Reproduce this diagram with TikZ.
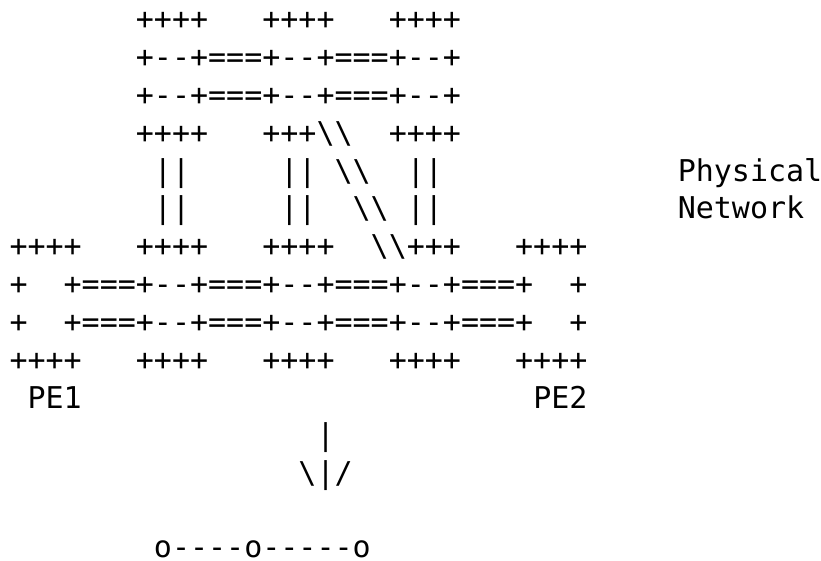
\documentclass[tikz,border=0pt]{standalone}
\usepackage{fontspec}
\setmonofont{DejaVu Sans Mono}
\usetikzlibrary{positioning}

\begin{document}
\begin{tikzpicture}
    [
        x=1pt, y=1pt,
        on grid,
        node distance=37.8pt, % one text line
        asciiline/.style={inner sep=0pt, outer sep=0pt, anchor=base west,
            font=\ttfamily\fontsize{30}{37.8}\selectfont}
    ]
        \useasboundingbox [fill=white] (0,0) rectangle (821,-561);
        \newcommand{\bs}{\textbackslash}
        % =========================================================================
        % UPPER (VIRTUAL) NETWORK
        % =========================================================================
        \node [asciiline] (vtop) at (9.5,-30) {~~~~~~~++++~~~++++~~~++++};
        \node [below=of vtop.base west, asciiline] (vlinkA) {~~~~~~~+--+===+--+===+--+};
        \node [below=of vlinkA.base west, asciiline] (vlinkB) {~~~~~~~+--+===+--+===+--+};
        \node [below=of vlinkB.base west, asciiline] (vbottom) {~~~~~~~++++~~~+++\bs\bs~~++++};
        % --- mapping down to the physical nodes ---
        \node [below=of vbottom.base west, asciiline] (mapA)
            {~~~~~~~~||~~~~~||~\bs\bs~~||~~~~~~~~~~~~~Physical};
        \node [below=of mapA.base west, asciiline] (mapB)
            {~~~~~~~~||~~~~~||~~\bs\bs~||~~~~~~~~~~~~~Network};
        % =========================================================================
        % PHYSICAL NETWORK
        % =========================================================================
        \node [below=of mapB.base west, asciiline] (ptop) {++++~~~++++~~~++++~~\bs\bs+++~~~++++};
        \node [below=of ptop.base west, asciiline] (plinkA) {+~~+===+--+===+--+===+--+===+~~+};
        \node [below=of plinkA.base west, asciiline] (plinkB) {+~~+===+--+===+--+===+--+===+~~+};
        \node [below=of plinkB.base west, asciiline] (pbottom) {++++~~~++++~~~++++~~~++++~~~++++};
        \node [below=of pbottom.base west, asciiline] (pe) {~PE1~~~~~~~~~~~~~~~~~~~~~~~~~PE2};
        % =========================================================================
        % ARROW AND RESULT
        % =========================================================================
        \node [below=of pe.base west, asciiline] (shaft) {~~~~~~~~~~~~~~~~~|};
        \node [below=of shaft.base west, asciiline] (head) {~~~~~~~~~~~~~~~~\bs|/};
        \node [below=74pt of head.base west, asciiline] (chain) {~~~~~~~~o----o-----o};
    \end{tikzpicture}
\end{document}
